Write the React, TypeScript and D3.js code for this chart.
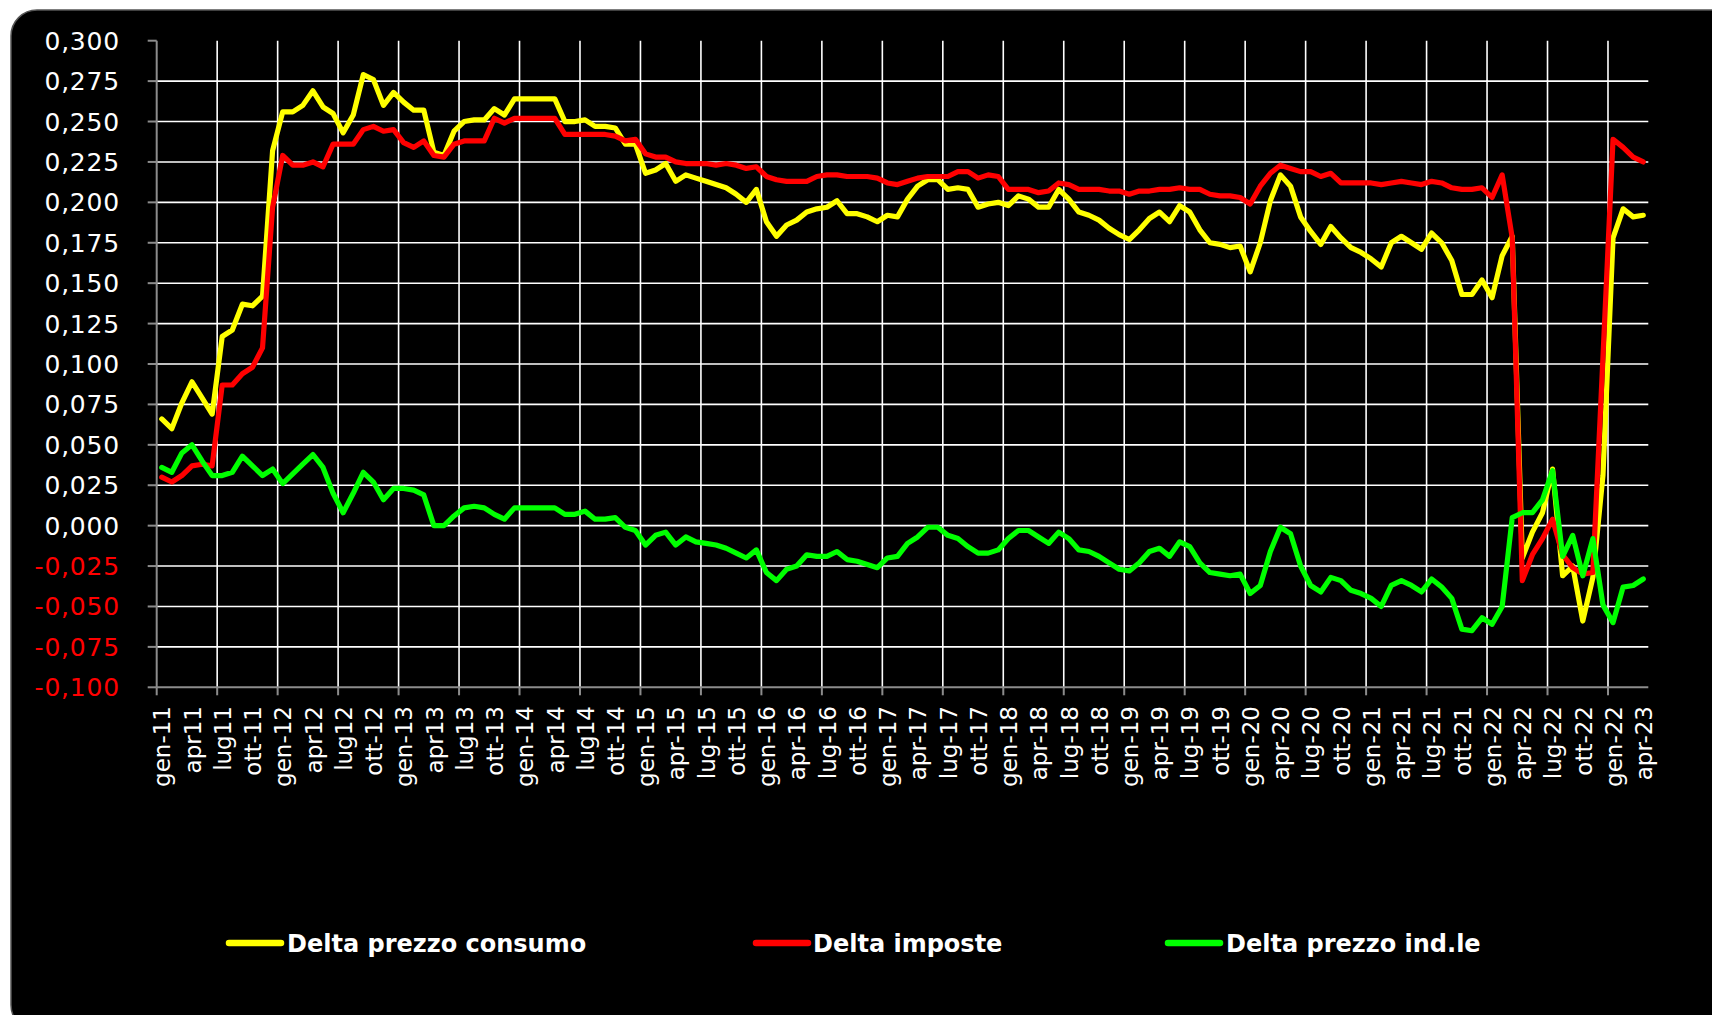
import { useEffect } from 'react'
import * as d3 from 'd3'

// monthly values gen-11 .. apr-23 (148 months)
const consumo = [
  0.066, 0.060, 0.076, 0.089, 0.079, 0.069, 0.117, 0.121, 0.137, 0.136, 0.142, 0.232,
  0.256, 0.256, 0.260, 0.269, 0.259, 0.255, 0.243, 0.254, 0.279, 0.276, 0.260, 0.268,
  0.262, 0.257, 0.257, 0.231, 0.229, 0.244, 0.250, 0.251, 0.251, 0.258, 0.254, 0.264,
  0.264, 0.264, 0.264, 0.264, 0.250, 0.250, 0.251, 0.247, 0.247, 0.246, 0.236, 0.236,
  0.218, 0.220, 0.224, 0.213, 0.217, 0.215, 0.213, 0.211, 0.209, 0.205, 0.200, 0.208,
  0.188, 0.179, 0.186, 0.189, 0.194, 0.196, 0.197, 0.201, 0.193, 0.193, 0.191, 0.188,
  0.192, 0.191, 0.202, 0.210, 0.214, 0.214, 0.208, 0.209, 0.208, 0.197, 0.199, 0.200,
  0.198, 0.204, 0.202, 0.197, 0.197, 0.208, 0.202, 0.194, 0.192, 0.189, 0.184, 0.180,
  0.177, 0.183, 0.190, 0.194, 0.188, 0.198, 0.194, 0.183, 0.175, 0.174, 0.172, 0.173,
  0.157, 0.175, 0.201, 0.217, 0.210, 0.191, 0.182, 0.174, 0.185, 0.178, 0.172, 0.169,
  0.165, 0.160, 0.175, 0.179, 0.175, 0.171, 0.181, 0.175, 0.164, 0.143, 0.143, 0.152,
  0.141, 0.167, 0.179, -0.020, -0.004, 0.008, 0.035, -0.031, -0.025, -0.059, -0.032, 0.031,
  0.178, 0.196, 0.191, 0.192,
]

const imposte = [
  0.030, 0.027, 0.031, 0.037, 0.038, 0.037, 0.087, 0.087, 0.094, 0.098, 0.110, 0.197,
  0.229, 0.223, 0.223, 0.225, 0.222, 0.236, 0.236, 0.236, 0.245, 0.247, 0.244, 0.245,
  0.237, 0.234, 0.238, 0.229, 0.228, 0.236, 0.238, 0.238, 0.238, 0.252, 0.249, 0.252,
  0.252, 0.252, 0.252, 0.252, 0.242, 0.242, 0.242, 0.242, 0.242, 0.241, 0.238, 0.239,
  0.230, 0.228, 0.228, 0.225, 0.224, 0.224, 0.224, 0.223, 0.224, 0.223, 0.221, 0.222,
  0.216, 0.214, 0.213, 0.213, 0.213, 0.216, 0.217, 0.217, 0.216, 0.216, 0.216, 0.215,
  0.212, 0.211, 0.213, 0.215, 0.216, 0.216, 0.216, 0.219, 0.219, 0.215, 0.217, 0.216,
  0.208, 0.208, 0.208, 0.206, 0.207, 0.212, 0.211, 0.208, 0.208, 0.208, 0.207, 0.207,
  0.205, 0.207, 0.207, 0.208, 0.208, 0.209, 0.208, 0.208, 0.205, 0.204, 0.204, 0.203,
  0.199, 0.210, 0.218, 0.223, 0.221, 0.219, 0.219, 0.216, 0.218, 0.212, 0.212, 0.212,
  0.212, 0.211, 0.212, 0.213, 0.212, 0.211, 0.213, 0.212, 0.209, 0.208, 0.208, 0.209,
  0.203, 0.217, 0.178, -0.034, -0.018, -0.008, 0.004, -0.018, -0.026, -0.030, -0.029, 0.104,
  0.239, 0.234, 0.228, 0.225,
]

const industriale = [
  0.036, 0.033, 0.045, 0.050, 0.040, 0.031, 0.031, 0.033, 0.043, 0.037, 0.031, 0.035,
  0.026, 0.032, 0.038, 0.044, 0.036, 0.020, 0.008, 0.020, 0.033, 0.027, 0.016, 0.023,
  0.023, 0.022, 0.019, 0.000, 0.000, 0.006, 0.011, 0.012, 0.011, 0.007, 0.004, 0.011,
  0.011, 0.011, 0.011, 0.011, 0.007, 0.007, 0.009, 0.004, 0.004, 0.005, -0.001, -0.003,
  -0.012, -0.006, -0.004, -0.012, -0.007, -0.010, -0.011, -0.012, -0.014, -0.017, -0.020, -0.015,
  -0.029, -0.034, -0.027, -0.025, -0.018, -0.019, -0.019, -0.016, -0.021, -0.022, -0.024, -0.026,
  -0.020, -0.019, -0.011, -0.007, -0.001, -0.001, -0.006, -0.008, -0.013, -0.017, -0.017, -0.015,
  -0.008, -0.003, -0.003, -0.007, -0.011, -0.004, -0.008, -0.015, -0.016, -0.019, -0.023, -0.027,
  -0.028, -0.023, -0.016, -0.014, -0.019, -0.010, -0.013, -0.023, -0.029, -0.030, -0.031, -0.030,
  -0.042, -0.037, -0.016, -0.001, -0.005, -0.025, -0.037, -0.041, -0.032, -0.034, -0.040, -0.042,
  -0.045, -0.050, -0.037, -0.034, -0.037, -0.041, -0.033, -0.038, -0.045, -0.064, -0.065, -0.057,
  -0.061, -0.050, 0.005, 0.008, 0.008, 0.016, 0.034, -0.019, -0.006, -0.031, -0.008, -0.049,
  -0.060, -0.038, -0.037, -0.033,
]

// one label every 3 months, as printed on the original axis
const monthLabels = [
  'gen-11', 'apr11', 'lug11', 'ott-11', 'gen-12', 'apr12', 'lug12', 'ott-12',
  'gen-13', 'apr13', 'lug13', 'ott-13', 'gen-14', 'apr14', 'lug14', 'ott-14',
  'gen-15', 'apr-15', 'lug-15', 'ott-15', 'gen-16', 'apr-16', 'lug-16', 'ott-16',
  'gen-17', 'apr-17', 'lug-17', 'ott-17', 'gen-18', 'apr-18', 'lug-18', 'ott-18',
  'gen-19', 'apr-19', 'lug-19', 'ott-19', 'gen-20', 'apr-20', 'lug-20', 'ott-20',
  'gen-21', 'apr-21', 'lug-21', 'ott-21', 'gen-22', 'apr-22', 'lug-22', 'ott-22',
  'gen-22', 'apr-23',
]

const yTicks = d3.range(-0.1, 0.3001, 0.025)

const series = [
  { name: 'Delta prezzo consumo', values: consumo, color: '#ffff00' },
  { name: 'Delta imposte', values: imposte, color: '#ff0000' },
  { name: 'Delta prezzo ind.le', values: industriale, color: '#00ff00' },
]

const W = 1712
const H = 1015
const FONT = '"DejaVu Sans", Verdana, sans-serif'

export default function App() {
  useEffect(() => {
    document.body.style.margin = '0'
  }, [])

  const left = 156.7
  const right = 1648.3
  const top = 40.7
  const bottom = 687.3

  const months = d3.range(consumo.length)
  const x = d3.scaleBand<number>().domain(months).range([left, right]).padding(0)
  const bw = x.bandwidth()
  const cx = (i: number) => (x(i) ?? 0) + bw / 2
  const y = d3.scaleLinear().domain([-0.1, 0.3]).range([bottom, top])

  const line = d3
    .line<number>()
    .x((_, i) => cx(i))
    .y((d) => y(d))

  const fmt = (v: number) => d3.format('.3f')(Math.abs(v) < 1e-9 ? 0 : v).replace('.', ',').replace('−', '-')

  const sixMonths = months.filter((i) => i % 6 === 0).map((i) => x(i) ?? 0)
  const labelIdx = months.filter((i) => i % 3 === 0)

  const legendItems = [
    { sx: 226, tx: 287 },
    { sx: 753, tx: 813 },
    { sx: 1165, tx: 1226 },
  ]

  return (
    <svg width={W} height={H} style={{ display: 'block', background: '#fff' }} fontFamily={FONT}>
      <rect x={11} y={10} width={W + 30} height={H + 6} rx={26} fill="#000" stroke="#555" strokeWidth={1.5} />

      {/* horizontal grid */}
      {yTicks.filter((t) => t > -0.099 && t < 0.299).map((t) => (
        <line key={'h' + t} x1={left} x2={right} y1={y(t)} y2={y(t)} stroke="#fff" strokeWidth={1.6} />
      ))}
      {/* vertical grid, every 6 months */}
      {sixMonths.slice(1).map((gx) => (
        <line key={'v' + gx} x1={gx} x2={gx} y1={top} y2={bottom} stroke="#fff" strokeWidth={1.6} />
      ))}

      {/* axes */}
      <line x1={left} x2={left} y1={top} y2={bottom} stroke="#8c8c8c" strokeWidth={2} />
      <line x1={left} x2={right} y1={bottom} y2={bottom} stroke="#8c8c8c" strokeWidth={2} />
      {yTicks.map((t) => (
        <line key={'yt' + t} x1={left - 9} x2={left} y1={y(t)} y2={y(t)} stroke="#8c8c8c" strokeWidth={2} />
      ))}
      {sixMonths.map((gx) => (
        <line key={'xt' + gx} x1={gx} x2={gx} y1={bottom} y2={bottom + 8} stroke="#8c8c8c" strokeWidth={2} />
      ))}

      {/* y labels */}
      {yTicks.map((t) => (
        <text
          key={'yl' + t}
          x={120}
          y={y(t)}
          dy="0.36em"
          textAnchor="end"
          fontSize={25}
          letterSpacing={0.8}
          fill={t < -1e-9 ? '#ff0000' : '#ffffff'}
        >
          {fmt(t)}
        </text>
      ))}

      {/* x labels */}
      {labelIdx.map((i, k) => (
        <text
          key={'xl' + i}
          transform={`translate(${cx(i)},${706}) rotate(-90)`}
          dy="0.38em"
          textAnchor="end"
          fontSize={23}
          fill="#ffffff"
        >
          {monthLabels[k]}
        </text>
      ))}

      {/* series */}
      {series.map((s) => (
        <path
          key={s.name}
          d={line(s.values) ?? ''}
          fill="none"
          stroke={s.color}
          strokeWidth={5.2}
          strokeLinejoin="round"
          strokeLinecap="round"
        />
      ))}

      {/* legend */}
      {series.map((s, k) => (
        <g key={'lg' + s.name}>
          <line
            x1={legendItems[k].sx + 3}
            x2={legendItems[k].sx + 55}
            y1={943}
            y2={943}
            stroke={s.color}
            strokeWidth={6.5}
            strokeLinecap="round"
          />
          <text x={legendItems[k].tx} y={951.5} fontSize={24} fontWeight="bold" fill="#ffffff">
            {s.name}
          </text>
        </g>
      ))}
    </svg>
  )
}
